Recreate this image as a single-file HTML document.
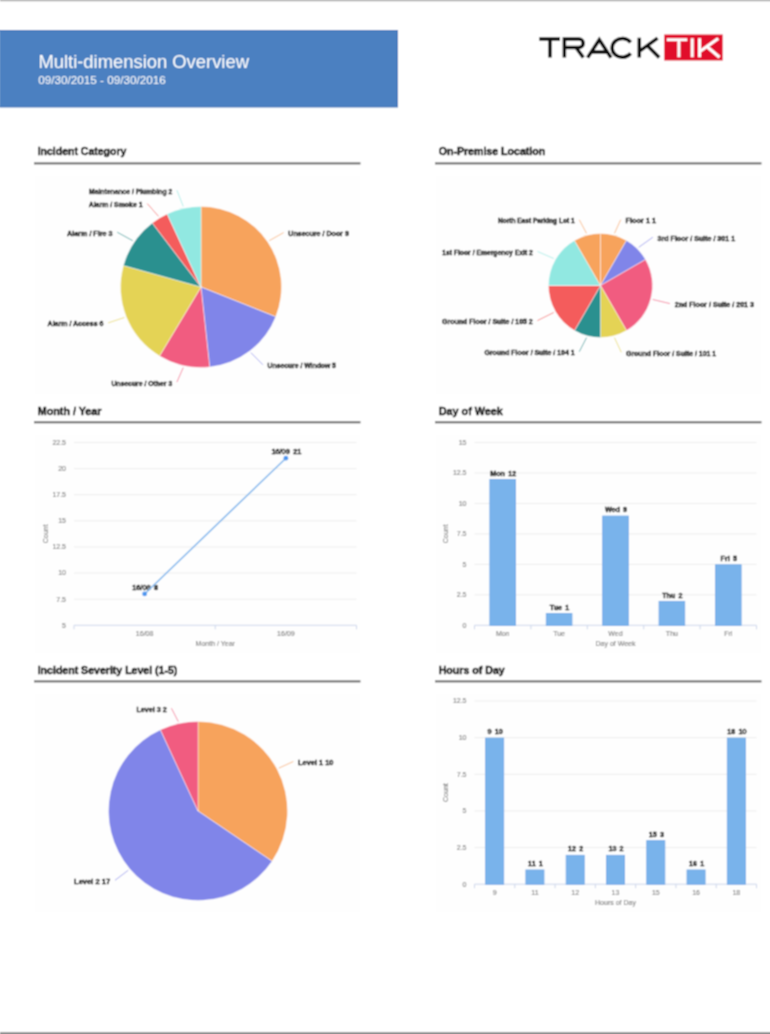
<!DOCTYPE html>
<html><head><meta charset="utf-8"><title>Multi-dimension Overview</title>
<style>html,body{margin:0;padding:0;background:#fff;width:770px;height:1034px;overflow:hidden}
svg text{font-family:"Liberation Sans", sans-serif}</style></head>
<body><svg width="770" height="1034" viewBox="0 0 770 1034" style="display:block"><defs><filter id="soft" x="0" y="0" width="100%" height="100%"><feConvolveMatrix order="3" kernelMatrix="1 2 1 2 4 2 1 2 1" divisor="16" edgeMode="duplicate"/></filter></defs><g filter="url(#soft)"><rect x="0" y="0" width="770" height="1034" fill="#fff"/><rect x="0" y="0" width="770" height="1.3" fill="#b4b4b4"/>
<rect x="0" y="1032.1" width="770" height="1.9" fill="#8e8e8e"/>
<rect x="0" y="30" width="398" height="77.3" fill="#4c80c1"/><rect x="-1" y="30.6" width="398.4" height="76.1" fill="none" stroke="#4276ba" stroke-width="1.2"/>
<text stroke="#fff" stroke-width="0.05" x="38.4" y="67.7" font-size="18.4" fill="#fff">Multi-dimension Overview</text>
<text stroke="#fff" stroke-width="0.05" x="38.3" y="83.8" font-size="11.7" fill="#fff">09/30/2015 - 09/30/2016</text>
<path d="M539.3 39 H560 M550 39 V57.6 M564.4 57.6 V39 H579 A4.2 4.2 0 0 1 579 47.4 H564.4 M576 47.4 L583.3 57.6 M587.6 57.6 L599.3 39.8 L611 57.6 M592.2 51.9 H606.4 M630.6 42.4 A10.2 9.4 0 1 0 630.6 53.4 M639.3 37.8 V57.6 M657.6 38.2 L640.3 50.6 M647.2 45.6 L659.2 57.6" stroke="#0a0a0a" stroke-width="3.5" fill="none"/>
<rect x="664.2" y="34.5" width="58.5" height="26" fill="#e1102b"/>
<path d="M666.8 39.8 H687.3 M678.9 39.8 V57.3 M692.2 38.2 V57.3 M699.6 38.2 V57.3 M718.2 38.4 L700.5 51 M706 45.8 L719.5 57.3" stroke="#fff" stroke-width="3.1" fill="none"/>
<text stroke="#1a1a1a" stroke-width="0.5" x="37.7" y="155.3" font-size="10.5" font-weight="700" fill="#1a1a1a" textLength="88.70" lengthAdjust="spacingAndGlyphs">Incident Category</text>
<rect x="34" y="162.4" width="326.5" height="2" fill="#666"/>
<rect x="34" y="175.4" width="326.5" height="220" fill="#fefefe"/>
<text stroke="#1a1a1a" stroke-width="0.5" x="438.7" y="155.3" font-size="10.5" font-weight="700" fill="#1a1a1a" textLength="106.50" lengthAdjust="spacingAndGlyphs">On-Premise Location</text>
<rect x="435" y="162.4" width="326.5" height="2" fill="#666"/>
<rect x="435" y="175.4" width="326.5" height="220" fill="#fefefe"/>
<text stroke="#1a1a1a" stroke-width="0.5" x="37.7" y="414.5" font-size="10.5" font-weight="700" fill="#1a1a1a" textLength="63.80" lengthAdjust="spacingAndGlyphs">Month / Year</text>
<rect x="34" y="421.3" width="326.5" height="2" fill="#666"/>
<rect x="34" y="434.3" width="326.5" height="220" fill="#fefefe"/>
<text stroke="#1a1a1a" stroke-width="0.5" x="438.7" y="414.5" font-size="10.5" font-weight="700" fill="#1a1a1a" textLength="64.20" lengthAdjust="spacingAndGlyphs">Day of Week</text>
<rect x="435" y="421.3" width="326.5" height="2" fill="#666"/>
<rect x="435" y="434.3" width="326.5" height="220" fill="#fefefe"/>
<text stroke="#1a1a1a" stroke-width="0.5" x="37.7" y="673.7" font-size="10.5" font-weight="700" fill="#1a1a1a" textLength="139.70" lengthAdjust="spacingAndGlyphs">Incident Severity Level (1-5)</text>
<rect x="34" y="680.4" width="326.5" height="2" fill="#666"/>
<rect x="34" y="693.4" width="326.5" height="220" fill="#fefefe"/>
<text stroke="#1a1a1a" stroke-width="0.5" x="438.7" y="673.7" font-size="10.5" font-weight="700" fill="#1a1a1a" textLength="66.00" lengthAdjust="spacingAndGlyphs">Hours of Day</text>
<rect x="435" y="680.4" width="326.5" height="2" fill="#666"/>
<rect x="435" y="693.4" width="326.5" height="220" fill="#fefefe"/>
<path d="M201.00 287.00 L201.00 206.50 A80.5 80.5 0 0 1 275.78 316.80 Z" fill="#f7a35c" stroke="#ffffff" stroke-opacity="0.45" stroke-width="1" stroke-linejoin="round"/>
<path d="M201.00 287.00 L275.78 316.80 A80.5 80.5 0 0 1 209.70 367.03 Z" fill="#8085e9" stroke="#ffffff" stroke-opacity="0.45" stroke-width="1" stroke-linejoin="round"/>
<path d="M201.00 287.00 L209.70 367.03 A80.5 80.5 0 0 1 159.50 355.98 Z" fill="#f15c80" stroke="#ffffff" stroke-opacity="0.45" stroke-width="1" stroke-linejoin="round"/>
<path d="M201.00 287.00 L159.50 355.98 A80.5 80.5 0 0 1 123.43 265.46 Z" fill="#e4d354" stroke="#ffffff" stroke-opacity="0.45" stroke-width="1" stroke-linejoin="round"/>
<path d="M201.00 287.00 L123.43 265.46 A80.5 80.5 0 0 1 152.28 222.91 Z" fill="#2b908f" stroke="#ffffff" stroke-opacity="0.45" stroke-width="1" stroke-linejoin="round"/>
<path d="M201.00 287.00 L152.28 222.91 A80.5 80.5 0 0 1 167.20 213.94 Z" fill="#f45b5b" stroke="#ffffff" stroke-opacity="0.45" stroke-width="1" stroke-linejoin="round"/>
<path d="M201.00 287.00 L167.20 213.94 A80.5 80.5 0 0 1 201.00 206.50 Z" fill="#91e8e1" stroke="#ffffff" stroke-opacity="0.45" stroke-width="1" stroke-linejoin="round"/>
<path d="M269.28 240.70 L283.60 232.60" stroke="#f7a35c" stroke-width="1" stroke-opacity="0.7" fill="none"/>
<text stroke="#111" stroke-width="0.35" x="288.30" y="236.00" font-size="7" font-weight="700" fill="#111" textLength="60.60" lengthAdjust="spacingAndGlyphs">Unsecure / Door 9</text>
<path d="M250.93 352.68 L262.90 364.80" stroke="#8085e9" stroke-width="1" stroke-opacity="0.7" fill="none"/>
<text stroke="#111" stroke-width="0.35" x="267.60" y="368.20" font-size="7" font-weight="700" fill="#111" textLength="68.30" lengthAdjust="spacingAndGlyphs">Unsecure / Window 5</text>
<path d="M183.26 367.57 L176.90 382.10" stroke="#f15c80" stroke-width="1" stroke-opacity="0.7" fill="none"/>
<text stroke="#111" stroke-width="0.35" x="111.40" y="385.50" font-size="7" font-weight="700" fill="#111" textLength="60.80" lengthAdjust="spacingAndGlyphs">Unsecure / Other 3</text>
<path d="M124.36 317.54 L108.10 322.90" stroke="#e4d354" stroke-width="1" stroke-opacity="0.7" fill="none"/>
<text stroke="#111" stroke-width="0.35" x="47.60" y="326.30" font-size="7" font-weight="700" fill="#111" textLength="55.80" lengthAdjust="spacingAndGlyphs">Alarm / Access 6</text>
<path d="M132.72 240.70 L117.20 232.20" stroke="#2b908f" stroke-width="1" stroke-opacity="0.7" fill="none"/>
<text stroke="#111" stroke-width="0.35" x="67.10" y="235.60" font-size="7" font-weight="700" fill="#111" textLength="45.40" lengthAdjust="spacingAndGlyphs">Alarm / Fire 3</text>
<path d="M158.47 216.31 L147.30 203.60" stroke="#f45b5b" stroke-width="1" stroke-opacity="0.7" fill="none"/>
<text stroke="#111" stroke-width="0.35" x="88.70" y="207.00" font-size="7" font-weight="700" fill="#111" textLength="53.90" lengthAdjust="spacingAndGlyphs">Alarm / Smoke 1</text>
<path d="M183.26 206.43 L176.90 190.20" stroke="#91e8e1" stroke-width="1" stroke-opacity="0.7" fill="none"/>
<text stroke="#111" stroke-width="0.35" x="89.10" y="193.60" font-size="7" font-weight="700" fill="#111" textLength="83.10" lengthAdjust="spacingAndGlyphs">Maintenance / Plumbing 2</text>
<path d="M600.50 285.50 L600.50 233.50 A52 52 0 0 1 626.50 240.47 Z" fill="#f7a35c" stroke="#ffffff" stroke-opacity="0.45" stroke-width="1" stroke-linejoin="round"/>
<path d="M600.50 285.50 L626.50 240.47 A52 52 0 0 1 645.53 259.50 Z" fill="#8085e9" stroke="#ffffff" stroke-opacity="0.45" stroke-width="1" stroke-linejoin="round"/>
<path d="M600.50 285.50 L645.53 259.50 A52 52 0 0 1 626.50 330.53 Z" fill="#f15c80" stroke="#ffffff" stroke-opacity="0.45" stroke-width="1" stroke-linejoin="round"/>
<path d="M600.50 285.50 L626.50 330.53 A52 52 0 0 1 600.50 337.50 Z" fill="#e4d354" stroke="#ffffff" stroke-opacity="0.45" stroke-width="1" stroke-linejoin="round"/>
<path d="M600.50 285.50 L600.50 337.50 A52 52 0 0 1 574.50 330.53 Z" fill="#2b908f" stroke="#ffffff" stroke-opacity="0.45" stroke-width="1" stroke-linejoin="round"/>
<path d="M600.50 285.50 L574.50 330.53 A52 52 0 0 1 548.50 285.50 Z" fill="#f45b5b" stroke="#ffffff" stroke-opacity="0.45" stroke-width="1" stroke-linejoin="round"/>
<path d="M600.50 285.50 L548.50 285.50 A52 52 0 0 1 574.50 240.47 Z" fill="#91e8e1" stroke="#ffffff" stroke-opacity="0.45" stroke-width="1" stroke-linejoin="round"/>
<path d="M600.50 285.50 L574.50 240.47 A52 52 0 0 1 600.50 233.50 Z" fill="#f7a35c" stroke="#ffffff" stroke-opacity="0.45" stroke-width="1" stroke-linejoin="round"/>
<path d="M614.48 233.34 L620.70 219.70" stroke="#f7a35c" stroke-width="1" stroke-opacity="0.7" fill="none"/>
<text stroke="#111" stroke-width="0.35" x="625.40" y="223.10" font-size="7" font-weight="700" fill="#111" textLength="30.80" lengthAdjust="spacingAndGlyphs">Floor 1 1</text>
<path d="M638.68 247.32 L652.90 237.20" stroke="#8085e9" stroke-width="1" stroke-opacity="0.7" fill="none"/>
<text stroke="#111" stroke-width="0.35" x="657.60" y="240.60" font-size="7" font-weight="700" fill="#111" textLength="77.50" lengthAdjust="spacingAndGlyphs">3rd Floor / Suite / 301 1</text>
<path d="M652.66 299.48 L670.00 303.60" stroke="#f15c80" stroke-width="1" stroke-opacity="0.7" fill="none"/>
<text stroke="#111" stroke-width="0.35" x="674.70" y="307.00" font-size="7" font-weight="700" fill="#111" textLength="79.30" lengthAdjust="spacingAndGlyphs">2nd Floor / Suite / 201 3</text>
<path d="M614.48 337.66 L621.30 352.30" stroke="#e4d354" stroke-width="1" stroke-opacity="0.7" fill="none"/>
<text stroke="#111" stroke-width="0.35" x="626.00" y="355.70" font-size="7" font-weight="700" fill="#111" textLength="90.20" lengthAdjust="spacingAndGlyphs">Ground Floor / Suite / 101 1</text>
<path d="M586.52 337.66 L579.30 351.70" stroke="#2b908f" stroke-width="1" stroke-opacity="0.7" fill="none"/>
<text stroke="#111" stroke-width="0.35" x="484.40" y="355.10" font-size="7" font-weight="700" fill="#111" textLength="90.20" lengthAdjust="spacingAndGlyphs">Ground Floor / Suite / 104 1</text>
<path d="M553.73 312.50 L537.40 320.60" stroke="#f45b5b" stroke-width="1" stroke-opacity="0.7" fill="none"/>
<text stroke="#111" stroke-width="0.35" x="442.10" y="324.00" font-size="7" font-weight="700" fill="#111" textLength="90.60" lengthAdjust="spacingAndGlyphs">Ground Floor / Suite / 105 2</text>
<path d="M553.73 258.50 L537.50 251.50" stroke="#91e8e1" stroke-width="1" stroke-opacity="0.7" fill="none"/>
<text stroke="#111" stroke-width="0.35" x="442.20" y="254.90" font-size="7" font-weight="700" fill="#111" textLength="90.60" lengthAdjust="spacingAndGlyphs">1st Floor / Emergency Exit 2</text>
<path d="M586.52 233.34 L579.30 219.80" stroke="#f7a35c" stroke-width="1" stroke-opacity="0.7" fill="none"/>
<text stroke="#111" stroke-width="0.35" x="497.90" y="223.20" font-size="7" font-weight="700" fill="#111" textLength="76.70" lengthAdjust="spacingAndGlyphs">North East Parking Lot 1</text>
<path d="M198.00 811.00 L198.00 721.50 A89.5 89.5 0 0 1 272.08 861.23 Z" fill="#f7a35c" stroke="#ffffff" stroke-opacity="0.45" stroke-width="1" stroke-linejoin="round"/>
<path d="M198.00 811.00 L272.08 861.23 A89.5 89.5 0 1 1 160.42 729.77 Z" fill="#8085e9" stroke="#ffffff" stroke-opacity="0.45" stroke-width="1" stroke-linejoin="round"/>
<path d="M198.00 811.00 L160.42 729.77 A89.5 89.5 0 0 1 198.00 721.50 Z" fill="#f15c80" stroke="#ffffff" stroke-opacity="0.45" stroke-width="1" stroke-linejoin="round"/>
<path d="M278.84 768.14 L293.30 761.50" stroke="#f7a35c" stroke-width="1" stroke-opacity="0.7" fill="none"/>
<text stroke="#111" stroke-width="0.35" x="298.00" y="764.90" font-size="7" font-weight="700" fill="#111" textLength="35.50" lengthAdjust="spacingAndGlyphs">Level 1 10</text>
<path d="M128.26 870.24 L115.00 880.30" stroke="#8085e9" stroke-width="1" stroke-opacity="0.7" fill="none"/>
<text stroke="#111" stroke-width="0.35" x="74.00" y="883.70" font-size="7" font-weight="700" fill="#111" textLength="36.30" lengthAdjust="spacingAndGlyphs">Level 2 17</text>
<path d="M178.33 721.64 L171.40 708.20" stroke="#f15c80" stroke-width="1" stroke-opacity="0.7" fill="none"/>
<text stroke="#111" stroke-width="0.35" x="136.40" y="711.60" font-size="7" font-weight="700" fill="#111" textLength="30.30" lengthAdjust="spacingAndGlyphs">Level 3 2</text>
<text stroke="#858585" stroke-width="0.15" x="66" y="627.70" font-size="7" fill="#858585" text-anchor="end">5</text>
<rect x="74" y="598.69" width="282.5" height="1" fill="#ededed"/>
<text stroke="#858585" stroke-width="0.15" x="66" y="601.59" font-size="7" fill="#858585" text-anchor="end">7.5</text>
<rect x="74" y="572.57" width="282.5" height="1" fill="#ededed"/>
<text stroke="#858585" stroke-width="0.15" x="66" y="575.47" font-size="7" fill="#858585" text-anchor="end">10</text>
<rect x="74" y="546.46" width="282.5" height="1" fill="#ededed"/>
<text stroke="#858585" stroke-width="0.15" x="66" y="549.36" font-size="7" fill="#858585" text-anchor="end">12.5</text>
<rect x="74" y="520.34" width="282.5" height="1" fill="#ededed"/>
<text stroke="#858585" stroke-width="0.15" x="66" y="523.24" font-size="7" fill="#858585" text-anchor="end">15</text>
<rect x="74" y="494.23" width="282.5" height="1" fill="#ededed"/>
<text stroke="#858585" stroke-width="0.15" x="66" y="497.13" font-size="7" fill="#858585" text-anchor="end">17.5</text>
<rect x="74" y="468.11" width="282.5" height="1" fill="#ededed"/>
<text stroke="#858585" stroke-width="0.15" x="66" y="471.01" font-size="7" fill="#858585" text-anchor="end">20</text>
<rect x="74" y="442.00" width="282.5" height="1" fill="#ededed"/>
<text stroke="#858585" stroke-width="0.15" x="66" y="444.90" font-size="7" fill="#858585" text-anchor="end">22.5</text>
<rect x="74" y="624.8" width="282.5" height="1" fill="#ccd6eb"/>
<rect x="73.50" y="625.3" width="1" height="4" fill="#ccd6eb"/>
<rect x="214.75" y="625.3" width="1" height="4" fill="#ccd6eb"/>
<rect x="356.00" y="625.3" width="1" height="4" fill="#ccd6eb"/>
<text stroke="#858585" stroke-width="0.15" x="144.62" y="635.5999999999999" font-size="7" fill="#858585" text-anchor="middle">16/08</text>
<text stroke="#858585" stroke-width="0.15" x="285.88" y="635.5999999999999" font-size="7" fill="#858585" text-anchor="middle">16/09</text>
<text stroke="#858585" stroke-width="0.15" x="215.25" y="645.8" font-size="7" fill="#858585" text-anchor="middle">Month / Year</text>
<text stroke="#858585" stroke-width="0.15" x="0" y="0" font-size="7" fill="#858585" text-anchor="middle" transform="translate(47.5,533.90) rotate(-90)">Count</text>
<text stroke="#111" stroke-width="0.35" x="145.12" y="589.96" font-size="7.3" font-weight="700" fill="#111" text-anchor="middle" word-spacing="1.4">16/08 8</text>
<text stroke="#111" stroke-width="0.35" x="286.38" y="454.17" font-size="7.3" font-weight="700" fill="#111" text-anchor="middle" word-spacing="1.4">16/09 21</text>
<path d="M144.62 593.96 L285.88 458.17" stroke="#7cb5ec" stroke-width="1.5" fill="none"/>
<circle cx="144.62" cy="593.96" r="2.4" fill="#4d97ee"/>
<circle cx="285.88" cy="458.17" r="2.4" fill="#4d97ee"/>
<text stroke="#858585" stroke-width="0.15" x="466.5" y="627.70" font-size="7" fill="#858585" text-anchor="end">0</text>
<rect x="474.5" y="594.33" width="282.0" height="1" fill="#ededed"/>
<text stroke="#858585" stroke-width="0.15" x="466.5" y="597.23" font-size="7" fill="#858585" text-anchor="end">2.5</text>
<rect x="474.5" y="563.87" width="282.0" height="1" fill="#ededed"/>
<text stroke="#858585" stroke-width="0.15" x="466.5" y="566.77" font-size="7" fill="#858585" text-anchor="end">5</text>
<rect x="474.5" y="533.40" width="282.0" height="1" fill="#ededed"/>
<text stroke="#858585" stroke-width="0.15" x="466.5" y="536.30" font-size="7" fill="#858585" text-anchor="end">7.5</text>
<rect x="474.5" y="502.93" width="282.0" height="1" fill="#ededed"/>
<text stroke="#858585" stroke-width="0.15" x="466.5" y="505.83" font-size="7" fill="#858585" text-anchor="end">10</text>
<rect x="474.5" y="472.47" width="282.0" height="1" fill="#ededed"/>
<text stroke="#858585" stroke-width="0.15" x="466.5" y="475.37" font-size="7" fill="#858585" text-anchor="end">12.5</text>
<rect x="474.5" y="442.00" width="282.0" height="1" fill="#ededed"/>
<text stroke="#858585" stroke-width="0.15" x="466.5" y="444.90" font-size="7" fill="#858585" text-anchor="end">15</text>
<rect x="474.5" y="624.8" width="282.0" height="1" fill="#ccd6eb"/>
<rect x="474.00" y="625.3" width="1" height="4" fill="#ccd6eb"/>
<rect x="530.40" y="625.3" width="1" height="4" fill="#ccd6eb"/>
<rect x="586.80" y="625.3" width="1" height="4" fill="#ccd6eb"/>
<rect x="643.20" y="625.3" width="1" height="4" fill="#ccd6eb"/>
<rect x="699.60" y="625.3" width="1" height="4" fill="#ccd6eb"/>
<rect x="756.00" y="625.3" width="1" height="4" fill="#ccd6eb"/>
<text stroke="#858585" stroke-width="0.15" x="502.70" y="635.5999999999999" font-size="7" fill="#858585" text-anchor="middle">Mon</text>
<text stroke="#858585" stroke-width="0.15" x="559.10" y="635.5999999999999" font-size="7" fill="#858585" text-anchor="middle">Tue</text>
<text stroke="#858585" stroke-width="0.15" x="615.50" y="635.5999999999999" font-size="7" fill="#858585" text-anchor="middle">Wed</text>
<text stroke="#858585" stroke-width="0.15" x="671.90" y="635.5999999999999" font-size="7" fill="#858585" text-anchor="middle">Thu</text>
<text stroke="#858585" stroke-width="0.15" x="728.30" y="635.5999999999999" font-size="7" fill="#858585" text-anchor="middle">Fri</text>
<text stroke="#858585" stroke-width="0.15" x="615.50" y="645.8" font-size="7" fill="#858585" text-anchor="middle">Day of Week</text>
<text stroke="#858585" stroke-width="0.15" x="0" y="0" font-size="7" fill="#858585" text-anchor="middle" transform="translate(448.0,533.90) rotate(-90)">Count</text>
<rect x="489.90" y="479.51" width="25.61" height="145.79" fill="#79b3eb" stroke="#6ca7e7" stroke-width="0.9"/>
<text stroke="#111" stroke-width="0.35" x="503.20" y="475.66" font-size="7.2" font-weight="700" fill="#111" text-anchor="middle" word-spacing="1.2">Mon 12</text>
<rect x="546.30" y="613.56" width="25.61" height="11.74" fill="#79b3eb" stroke="#6ca7e7" stroke-width="0.9"/>
<text stroke="#111" stroke-width="0.35" x="559.60" y="609.71" font-size="7.2" font-weight="700" fill="#111" text-anchor="middle" word-spacing="1.2">Tue 1</text>
<rect x="602.70" y="516.07" width="25.61" height="109.23" fill="#79b3eb" stroke="#6ca7e7" stroke-width="0.9"/>
<text stroke="#111" stroke-width="0.35" x="616.00" y="512.22" font-size="7.2" font-weight="700" fill="#111" text-anchor="middle" word-spacing="1.2">Wed 9</text>
<rect x="659.10" y="601.38" width="25.61" height="23.92" fill="#79b3eb" stroke="#6ca7e7" stroke-width="0.9"/>
<text stroke="#111" stroke-width="0.35" x="672.40" y="597.53" font-size="7.2" font-weight="700" fill="#111" text-anchor="middle" word-spacing="1.2">Thu 2</text>
<rect x="715.50" y="564.82" width="25.61" height="60.48" fill="#79b3eb" stroke="#6ca7e7" stroke-width="0.9"/>
<text stroke="#111" stroke-width="0.35" x="728.80" y="560.97" font-size="7.2" font-weight="700" fill="#111" text-anchor="middle" word-spacing="1.2">Fri 5</text>
<text stroke="#858585" stroke-width="0.15" x="466.5" y="886.60" font-size="7" fill="#858585" text-anchor="end">0</text>
<rect x="474.5" y="847.06" width="282.0" height="1" fill="#ededed"/>
<text stroke="#858585" stroke-width="0.15" x="466.5" y="849.96" font-size="7" fill="#858585" text-anchor="end">2.5</text>
<rect x="474.5" y="810.42" width="282.0" height="1" fill="#ededed"/>
<text stroke="#858585" stroke-width="0.15" x="466.5" y="813.32" font-size="7" fill="#858585" text-anchor="end">5</text>
<rect x="474.5" y="773.78" width="282.0" height="1" fill="#ededed"/>
<text stroke="#858585" stroke-width="0.15" x="466.5" y="776.68" font-size="7" fill="#858585" text-anchor="end">7.5</text>
<rect x="474.5" y="737.14" width="282.0" height="1" fill="#ededed"/>
<text stroke="#858585" stroke-width="0.15" x="466.5" y="740.04" font-size="7" fill="#858585" text-anchor="end">10</text>
<rect x="474.5" y="700.50" width="282.0" height="1" fill="#ededed"/>
<text stroke="#858585" stroke-width="0.15" x="466.5" y="703.40" font-size="7" fill="#858585" text-anchor="end">12.5</text>
<rect x="474.5" y="883.7" width="282.0" height="1" fill="#ccd6eb"/>
<rect x="474.00" y="884.2" width="1" height="4" fill="#ccd6eb"/>
<rect x="514.29" y="884.2" width="1" height="4" fill="#ccd6eb"/>
<rect x="554.57" y="884.2" width="1" height="4" fill="#ccd6eb"/>
<rect x="594.86" y="884.2" width="1" height="4" fill="#ccd6eb"/>
<rect x="635.14" y="884.2" width="1" height="4" fill="#ccd6eb"/>
<rect x="675.43" y="884.2" width="1" height="4" fill="#ccd6eb"/>
<rect x="715.71" y="884.2" width="1" height="4" fill="#ccd6eb"/>
<rect x="756.00" y="884.2" width="1" height="4" fill="#ccd6eb"/>
<text stroke="#858585" stroke-width="0.15" x="494.64" y="894.5" font-size="7" fill="#858585" text-anchor="middle">9</text>
<text stroke="#858585" stroke-width="0.15" x="534.93" y="894.5" font-size="7" fill="#858585" text-anchor="middle">11</text>
<text stroke="#858585" stroke-width="0.15" x="575.21" y="894.5" font-size="7" fill="#858585" text-anchor="middle">12</text>
<text stroke="#858585" stroke-width="0.15" x="615.50" y="894.5" font-size="7" fill="#858585" text-anchor="middle">13</text>
<text stroke="#858585" stroke-width="0.15" x="655.79" y="894.5" font-size="7" fill="#858585" text-anchor="middle">15</text>
<text stroke="#858585" stroke-width="0.15" x="696.07" y="894.5" font-size="7" fill="#858585" text-anchor="middle">16</text>
<text stroke="#858585" stroke-width="0.15" x="736.36" y="894.5" font-size="7" fill="#858585" text-anchor="middle">18</text>
<text stroke="#858585" stroke-width="0.15" x="615.50" y="904.7" font-size="7" fill="#858585" text-anchor="middle">Hours of Day</text>
<text stroke="#858585" stroke-width="0.15" x="0" y="0" font-size="7" fill="#858585" text-anchor="middle" transform="translate(448.0,792.60) rotate(-90)">Count</text>
<rect x="485.63" y="738.09" width="18.03" height="146.11" fill="#79b3eb" stroke="#6ca7e7" stroke-width="0.9"/>
<text stroke="#111" stroke-width="0.35" x="495.14" y="734.24" font-size="7.2" font-weight="700" fill="#111" text-anchor="middle" word-spacing="1.2">9 10</text>
<rect x="525.91" y="869.99" width="18.03" height="14.21" fill="#79b3eb" stroke="#6ca7e7" stroke-width="0.9"/>
<text stroke="#111" stroke-width="0.35" x="535.43" y="866.14" font-size="7.2" font-weight="700" fill="#111" text-anchor="middle" word-spacing="1.2">11 1</text>
<rect x="566.20" y="855.34" width="18.03" height="28.86" fill="#79b3eb" stroke="#6ca7e7" stroke-width="0.9"/>
<text stroke="#111" stroke-width="0.35" x="575.71" y="851.49" font-size="7.2" font-weight="700" fill="#111" text-anchor="middle" word-spacing="1.2">12 2</text>
<rect x="606.48" y="855.34" width="18.03" height="28.86" fill="#79b3eb" stroke="#6ca7e7" stroke-width="0.9"/>
<text stroke="#111" stroke-width="0.35" x="616.00" y="851.49" font-size="7.2" font-weight="700" fill="#111" text-anchor="middle" word-spacing="1.2">13 2</text>
<rect x="646.77" y="840.68" width="18.03" height="43.52" fill="#79b3eb" stroke="#6ca7e7" stroke-width="0.9"/>
<text stroke="#111" stroke-width="0.35" x="656.29" y="836.83" font-size="7.2" font-weight="700" fill="#111" text-anchor="middle" word-spacing="1.2">15 3</text>
<rect x="687.05" y="869.99" width="18.03" height="14.21" fill="#79b3eb" stroke="#6ca7e7" stroke-width="0.9"/>
<text stroke="#111" stroke-width="0.35" x="696.57" y="866.14" font-size="7.2" font-weight="700" fill="#111" text-anchor="middle" word-spacing="1.2">16 1</text>
<rect x="727.34" y="738.09" width="18.03" height="146.11" fill="#79b3eb" stroke="#6ca7e7" stroke-width="0.9"/>
<text stroke="#111" stroke-width="0.35" x="736.86" y="734.24" font-size="7.2" font-weight="700" fill="#111" text-anchor="middle" word-spacing="1.2">18 10</text></g></svg></body></html>
